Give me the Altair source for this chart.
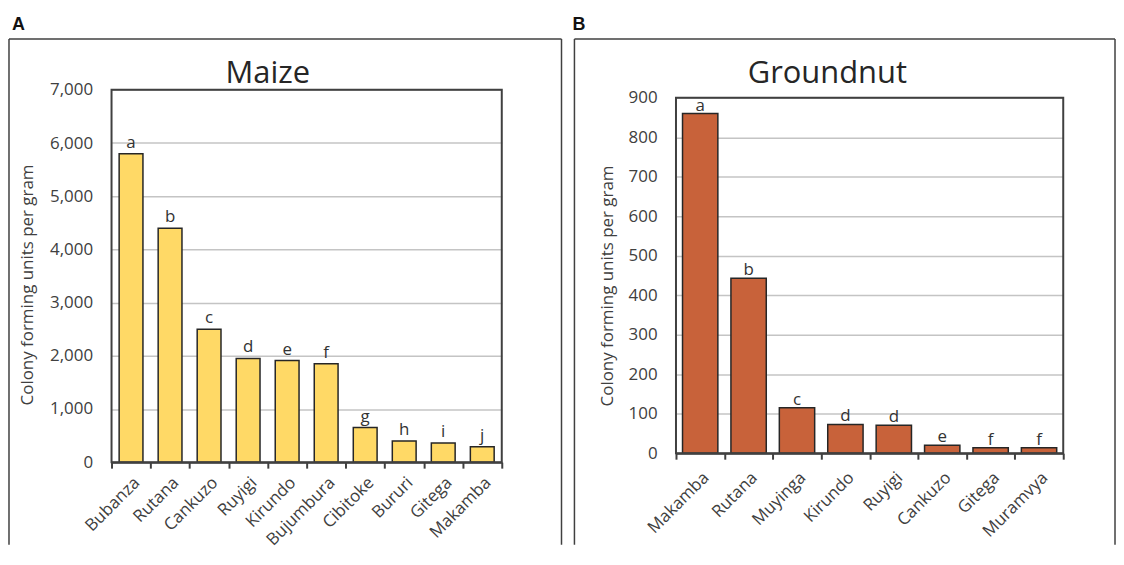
import altair as alt
import pandas as pd

# ---- data ----
maize_sites = ["Bubanza", "Rutana", "Cankuzo", "Ruyigi", "Kirundo",
               "Bujumbura", "Cibitoke", "Bururi", "Gitega", "Makamba"]
maize_cfu = [5800, 4400, 2500, 1950, 1910, 1850, 650, 400, 360, 290]
maize_letters = ["a", "b", "c", "d", "e", "f", "g", "h", "i", "j"]
maize_ticks = [0, 1000, 2000, 3000, 4000, 5000, 6000, 7000]

ground_sites = ["Makamba", "Rutana", "Muyinga", "Kirundo", "Ruyigi",
                "Cankuzo", "Gitega", "Muramvya"]
ground_cfu = [860, 443, 115, 73, 71, 20, 14, 14]
ground_letters = ["a", "b", "c", "d", "d", "e", "f", "f"]
ground_ticks = [0, 100, 200, 300, 400, 500, 600, 700, 800, 900]

y_title = "Colony forming units per gram"
FONT = "Open Sans"
DARK = "#404040"


def panel(sites, vals, letters, ticks, title, tag, color, w, h, top, band,
          frame, tag_xy, title_xy, ytitle_xy, label_dy, xlabel_pad):
    df = pd.DataFrame({"site": sites, "cfu": vals, "sig": letters})
    one = pd.DataFrame({"t": [0]})
    x = alt.X("site:N", sort=sites, title=None,
              scale=alt.Scale(paddingInner=0, paddingOuter=0),
              axis=alt.Axis(labelAngle=-45, labelAlign="right", labelBaseline="top",
                            tickBand="extent", labelPadding=xlabel_pad, labelFontSize=17))
    y = alt.Y("cfu:Q", title=None,
              scale=alt.Scale(domain=[ticks[0], ticks[-1]], nice=False, range=[h, top]),
              axis=alt.Axis(values=ticks, format=",d", grid=True, domain=False,
                            ticks=False, labelPadding=19, labelFontSize=17))
    bars = alt.Chart(df).mark_bar(
        width=alt.RelativeBandSize(band), color=color, stroke="#262626", strokeWidth=1.5
    ).encode(x=x, y=y)
    sig = alt.Chart(df).mark_text(
        dy=label_dy, baseline="alphabetic", fontSize=17, color="#333333", font=FONT
    ).encode(x=alt.X("site:N", sort=sites), y="cfu:Q", text="sig:N")
    plot_border = alt.Chart(one).mark_rect(
        fillOpacity=0, stroke=DARK, strokeWidth=2
    ).encode(x=alt.value(0), x2=alt.value(w), y=alt.value(top), y2=alt.value(h))
    fx0, fx1, fy0, fy1 = frame
    frame_left = alt.Chart(one).mark_rule(stroke=DARK, strokeWidth=1.5).encode(
        x=alt.value(fx0), y=alt.value(fy0), y2=alt.value(fy1))
    frame_right = alt.Chart(one).mark_rule(stroke=DARK, strokeWidth=1.5).encode(
        x=alt.value(fx1), y=alt.value(fy0), y2=alt.value(fy1))
    frame_top = alt.Chart(one).mark_rule(stroke=DARK, strokeWidth=1.5).encode(
        x=alt.value(fx0), x2=alt.value(fx1), y=alt.value(fy0))
    tag_mark = alt.Chart(pd.DataFrame({"t": [tag]})).mark_text(
        align="left", baseline="alphabetic", fontSize=18, fontWeight="bold",
        font="Liberation Sans", color="#111111"
    ).encode(x=alt.value(tag_xy[0]), y=alt.value(tag_xy[1]), text="t:N")
    title_mark = alt.Chart(pd.DataFrame({"t": [title]})).mark_text(
        align="center", baseline="alphabetic", fontSize=31, font=FONT, color="#262626"
    ).encode(x=alt.value(title_xy[0]), y=alt.value(title_xy[1]), text="t:N")
    ytitle_mark = alt.Chart(pd.DataFrame({"t": [y_title]})).mark_text(
        align="center", baseline="middle", angle=270, fontSize=17, font=FONT, color=DARK
    ).encode(x=alt.value(ytitle_xy[0]), y=alt.value(ytitle_xy[1]), text="t:N")
    return alt.layer(frame_left, frame_right, frame_top, bars, plot_border, sig,
                     tag_mark, title_mark, ytitle_mark).properties(width=w, height=h)


maize = panel(maize_sites, maize_cfu, maize_letters, maize_ticks, "Maize", "A",
              "#FFD966", 392, 374, 0, 0.61,
              frame=(-103, 452, -51, 457), tag_xy=(-100, -60), title_xy=(157, -7),
              ytitle_xy=(-84, 196), label_dy=-6, xlabel_pad=6)
ground = panel(ground_sites, ground_cfu, ground_letters, ground_ticks, "Groundnut", "B",
               "#C8623A", 389, 365, 8, 0.73,
               frame=(-102, 441, -51, 457), tag_xy=(-104, -60), title_xy=(152, -7),
               ytitle_xy=(-68, 197), label_dy=-3, xlabel_pad=10)

chart = alt.hconcat(maize, ground, spacing=10).properties(
    padding={"left": 0, "right": 0, "top": 7, "bottom": 0}
).configure(font=FONT).configure_view(
    strokeWidth=0
).configure_axis(
    labelFont=FONT, labelColor=DARK, gridColor="#c4c4c4", gridWidth=1.5,
    domainColor=DARK, domainWidth=2, tickColor=DARK, tickWidth=2, tickSize=6
)

chart.save("out.html", embed_options={"renderer": "svg", "actions": False})
